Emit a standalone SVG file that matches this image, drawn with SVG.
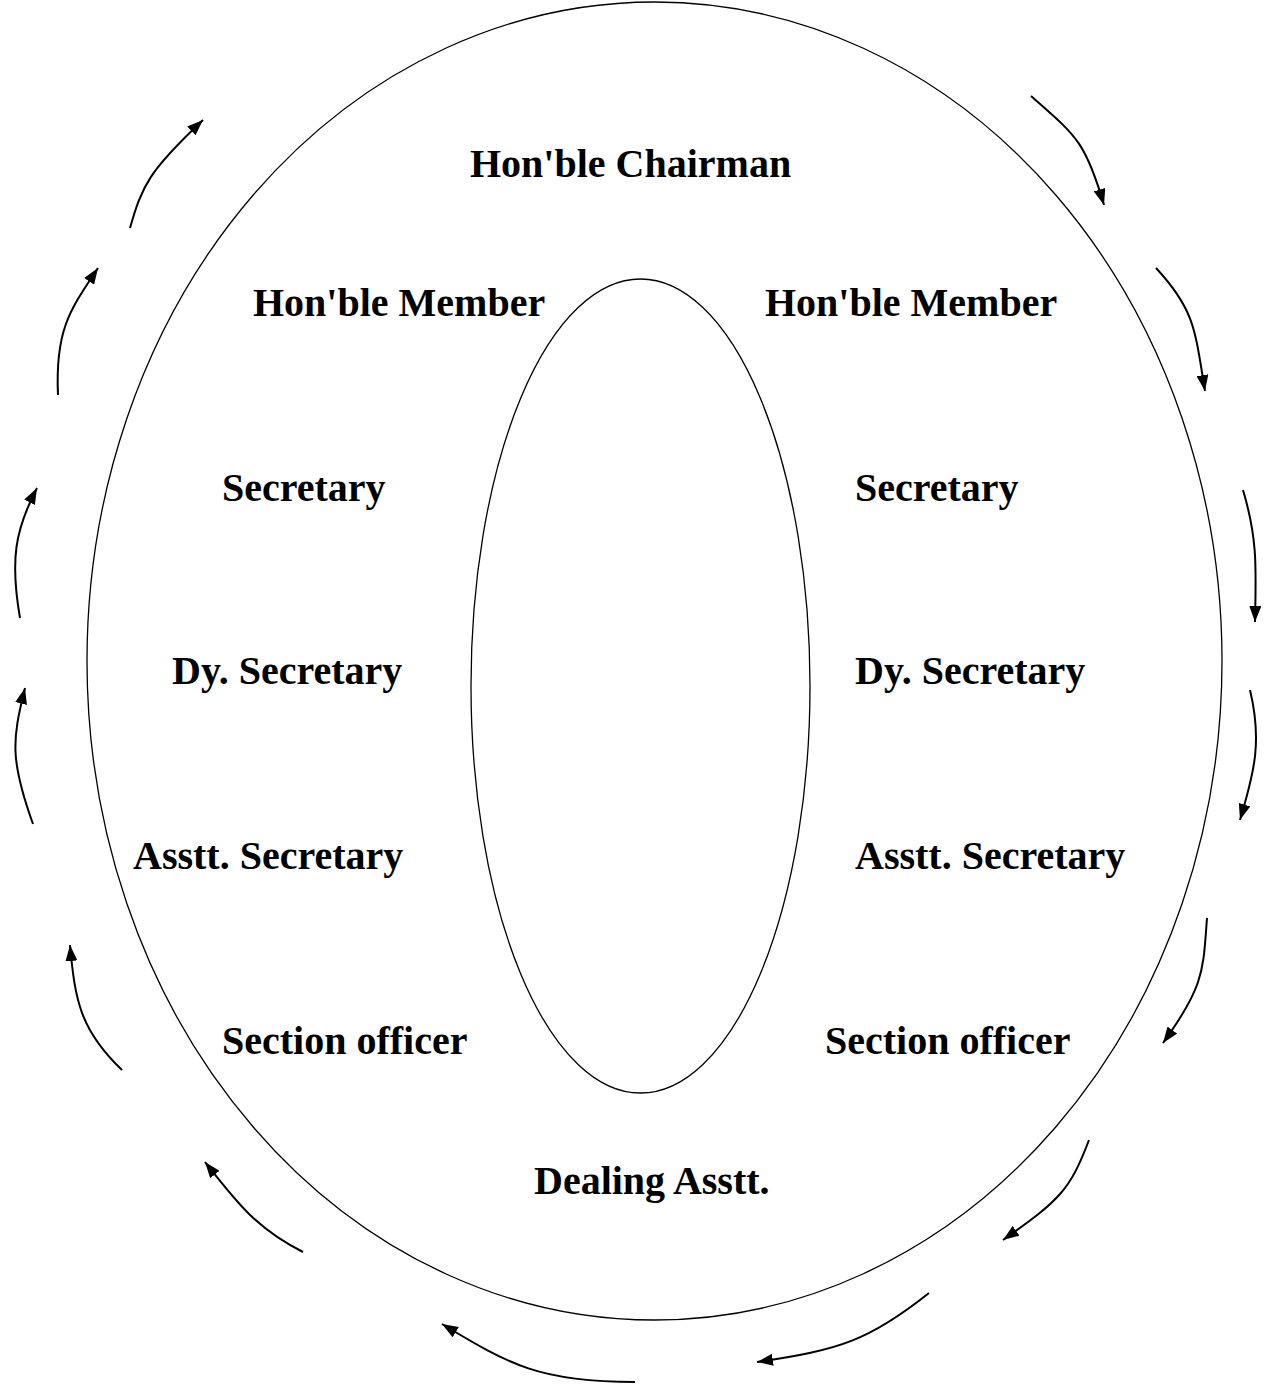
<svg xmlns="http://www.w3.org/2000/svg" width="1267" height="1384" viewBox="0 0 1267 1384">
<defs>
<marker id="ah" markerWidth="16" markerHeight="12" refX="16" refY="6" orient="auto" markerUnits="userSpaceOnUse">
<path d="M0,0 L16,6 L0,12 Z" fill="#000"/>
</marker>
<style>
.lbl{font-family:"Liberation Serif","Times New Roman",serif;font-weight:bold;font-size:40px;fill:#000}
.ring{fill:none;stroke:#000;stroke-width:1.3}
.arr{fill:none;stroke:#000;stroke-width:2;marker-end:url(#ah)}
</style>
</defs>
<rect width="1267" height="1384" fill="#fff"/>
<g id="outer"><ellipse class="ring" cx="654.5" cy="661" rx="567.5" ry="659"/></g>
<g id="inner"><ellipse class="ring" cx="640.5" cy="686" rx="169.5" ry="407"/></g>
<g id="n-chairman"><text class="lbl" x="470" y="177">Hon'ble Chairman</text></g>
<g id="n-member-l"><text class="lbl" x="253" y="316">Hon'ble Member</text></g>
<g id="n-member-r"><text class="lbl" x="765" y="316">Hon'ble Member</text></g>
<g id="n-secretary-l"><text class="lbl" x="222" y="501">Secretary</text></g>
<g id="n-secretary-r"><text class="lbl" x="855" y="501">Secretary</text></g>
<g id="n-dysec-l"><text class="lbl" x="172" y="684">Dy. Secretary</text></g>
<g id="n-dysec-r"><text class="lbl" x="855" y="684">Dy. Secretary</text></g>
<g id="n-asstsec-l"><text class="lbl" x="133" y="869">Asstt. Secretary</text></g>
<g id="n-asstsec-r"><text class="lbl" x="855" y="869">Asstt. Secretary</text></g>
<g id="n-so-l"><text class="lbl" x="222" y="1054">Section officer</text></g>
<g id="n-so-r"><text class="lbl" x="825" y="1054">Section officer</text></g>
<g id="n-dealing"><text class="lbl" x="534" y="1194">Dealing Asstt.</text></g>
<g id="connectors">
<path class="arr" d="M130,228 C142,185 150,170 203,120"/>
<path class="arr" d="M58,395 C55,330 70,310 98,268"/>
<path class="arr" d="M20,618 C10,560 15,530 37,488"/>
<path class="arr" d="M33,824 C10,760 12,740 25,688"/>
<path class="arr" d="M122,1070 C80,1030 75,1000 70,945"/>
<path class="arr" d="M303,1252 C255,1228 235,1200 205,1162"/>
<path class="arr" d="M635,1382 C540,1382 510,1365 442,1324"/>
<path class="arr" d="M1031,96 C1075,135 1085,140 1104,205"/>
<path class="arr" d="M1156,268 C1195,310 1195,330 1205,391"/>
<path class="arr" d="M1243,490 C1258,540 1256,570 1255,622"/>
<path class="arr" d="M1250,690 C1262,740 1255,770 1240,820"/>
<path class="arr" d="M1207,918 C1203,970 1205,985 1163,1043"/>
<path class="arr" d="M1089,1140 C1070,1190 1060,1200 1003,1240"/>
<path class="arr" d="M929,1293 C870,1340 840,1350 757,1362"/>
</g>
</svg>
